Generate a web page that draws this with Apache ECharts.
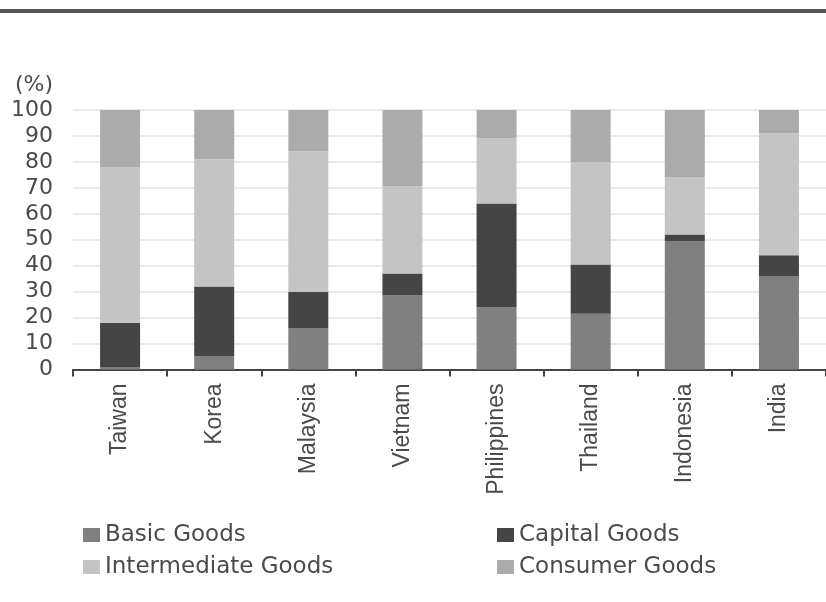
<!DOCTYPE html>
<html>
<head>
<meta charset="utf-8">
<script src="https://cdn.jsdelivr.net/npm/echarts@6/dist/echarts.min.js"></script>
<style>
html,body{margin:0;padding:0;background:#fff;}
#c{width:826px;height:602px;}
</style>
</head>
<body>
<div id="c"></div>
<script>
const categories = ['Taiwan','Korea','Malaysia','Vietnam','Philippines','Thailand','Indonesia','India'];
const basicGoods        = [1, 5, 16, 28.5, 24, 21.5, 49.5, 36];
const capitalGoods      = [17, 27, 14, 8.5, 40, 19, 2.5, 8];
const intermediateGoods = [60, 49, 54, 33.5, 25, 39.5, 22, 47];
const consumerGoods     = [22, 19, 16, 29.5, 11, 20, 26, 9];
const yTicks = [0,10,20,30,40,50,60,70,80,90,100];

const colors = {
  'Basic Goods': '#808080',
  'Capital Goods': '#454545',
  'Intermediate Goods': '#c4c4c4',
  'Consumer Goods': '#ababab'
};

const chart = echarts.init(document.getElementById('c'));
function mk(name, data){
  return {name, type:'bar', stack:'all', data, barWidth:40,
    itemStyle:{color:colors[name]}, emphasis:{disabled:true}};
}
const textColor = '#4a4a4a';
const legendText = {fontFamily:'DejaVu Sans', fontSize:23, color:textColor, lineHeight:24};
chart.setOption({
  animation:false,
  backgroundColor:'#fff',
  graphic:[{type:'rect', shape:{x:0,y:9,width:826,height:4}, style:{fill:'#555'}}],
  grid:{left:73, right:0, top:110, bottom:232.5, containLabel:false},
  legend:[
    {data:['Basic Goods','Intermediate Goods'], orient:'vertical', left:83, top:523, padding:0,
     itemWidth:17, itemHeight:14, itemGap:8, icon:'rect', textStyle:legendText, selectedMode:false},
    {data:['Capital Goods','Consumer Goods'], orient:'vertical', left:497, top:523, padding:0,
     itemWidth:17, itemHeight:14, itemGap:8, icon:'rect', textStyle:legendText, selectedMode:false}
  ],
  xAxis:{type:'category', data:categories,
    axisLine:{lineStyle:{color:'#444', width:2}},
    axisTick:{show:true, length:7, lineStyle:{color:'#444', width:2}},
    axisLabel:{rotate:90, margin:14, fontFamily:'Liberation Sans', fontSize:23, color:textColor, interval:0}
  },
  yAxis:{type:'value', min:yTicks[0], max:yTicks[yTicks.length-1], interval:10,
    name:'(%)', nameLocation:'end', nameGap:25,
    nameTextStyle:{fontFamily:'DejaVu Sans', fontSize:22, color:textColor, align:'right', verticalAlign:'middle', padding:[0,20,0,0]},
    axisLine:{show:false}, axisTick:{show:false},
    axisLabel:{margin:20, fontFamily:'DejaVu Sans', fontSize:22, color:textColor},
    splitLine:{lineStyle:{color:'#e3e3e3', width:1.5}}
  },
  series:[
    mk('Basic Goods', basicGoods),
    mk('Capital Goods', capitalGoods),
    mk('Intermediate Goods', intermediateGoods),
    mk('Consumer Goods', consumerGoods)
  ]
});
</script>
</body>
</html>
